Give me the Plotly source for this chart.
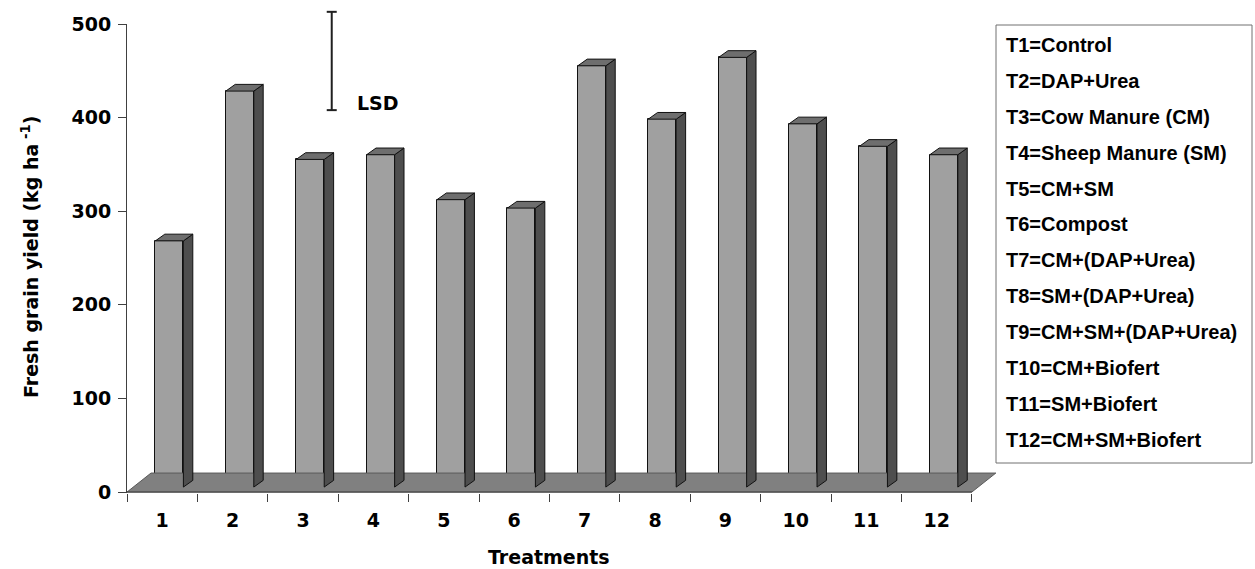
import plotly.graph_objects as go

# ---------------- data ----------------
treatments = ['1', '2', '3', '4', '5', '6', '7', '8', '9', '10', '11', '12']
yield_values = [263, 423, 350, 355, 307, 298, 450, 393, 459, 388, 364, 355]
y_tick_values = [0, 100, 200, 300, 400, 500]
legend_labels = [
    "T1=Control", "T2=DAP+Urea", "T3=Cow Manure (CM)", "T4=Sheep Manure (SM)",
    "T5=CM+SM", "T6=Compost", "T7=CM+(DAP+Urea)", "T8=SM+(DAP+Urea)",
    "T9=CM+SM+(DAP+Urea)", "T10=CM+Biofert", "T11=SM+Biofert", "T12=CM+SM+Biofert",
]
lsd_value = 105
lsd_top = 513

# ---------------- layout geometry ----------------
W, H = 1255, 569
ML, MR, MT, MB = 127, 255, 24, 76
X_RANGE = [-0.5, 11.9]
Y_RANGE = [-1, 500]
PW, PH = W - ML - MR, H - MT - MB
ux = PW / (X_RANGE[1] - X_RANGE[0])   # px per x unit
uy = PH / (Y_RANGE[1] - Y_RANGE[0])   # px per y unit


def xpaper_px(px):
    return (px - ML) / PW


def ypaper_px(py):
    return (H - MB - py) / PH


def xpaper(v):
    return (v - X_RANGE[0]) / (X_RANGE[1] - X_RANGE[0])


def ypaper(v):
    return (v - Y_RANGE[0]) / (Y_RANGE[1] - Y_RANGE[0])


# pseudo-3D style constants (pixels converted to data units)
floor_dx, floor_dy = 24 / ux, 19 / uy
bar_shift = 7.2 / ux
bar_w = 28 / ux
bar_base = 5 / uy
depth_dx, depth_dy = 9.4 / ux, 6.7 / uy

FRONT = '#A0A0A0'
SIDE = '#4E4E4E'
TOP = '#6E6E6E'
FLOOR = '#808080'
EDGE = '#111111'
AXIS = '#404040'

n = len(yield_values)
xs = list(range(n))

fig = go.Figure()

# floor
x0, x1 = -0.5, n - 0.5
fig.add_trace(go.Scatter(
    x=[x0, x0 + floor_dx, x1 + floor_dx, x1, x0],
    y=[0, floor_dy, floor_dy, 0, 0],
    fill='toself', fillcolor=FLOOR, mode='lines',
    line=dict(color='#5A5A5A', width=1), hoverinfo='skip', showlegend=False))

# x axis line
fig.add_trace(go.Scatter(x=[x0, x1], y=[0, 0], mode='lines',
                         line=dict(color=AXIS, width=1), hoverinfo='skip', showlegend=False))

# side faces and top faces
side_x, side_y, top_x, top_y = [], [], [], []
for i, v in zip(xs, yield_values):
    xl = i + bar_shift - bar_w / 2
    xr = i + bar_shift + bar_w / 2
    yb = bar_base
    yt = bar_base + v
    side_x += [xr, xr + depth_dx, xr + depth_dx, xr, xr, None]
    side_y += [yb, yb + depth_dy, yt + depth_dy, yt, yb, None]
    top_x += [xl, xl + depth_dx, xr + depth_dx, xr, xl, None]
    top_y += [yt, yt + depth_dy, yt + depth_dy, yt, yt, None]

fig.add_trace(go.Scatter(x=side_x, y=side_y, fill='toself', fillcolor=SIDE, mode='lines',
                         line=dict(color=EDGE, width=1), hoverinfo='skip', showlegend=False))
fig.add_trace(go.Scatter(x=top_x, y=top_y, fill='toself', fillcolor=TOP, mode='lines',
                         line=dict(color=EDGE, width=1), hoverinfo='skip', showlegend=False))

# front faces
fig.add_trace(go.Bar(
    x=[i + bar_shift for i in xs], y=yield_values, base=bar_base, width=bar_w,
    marker=dict(color=FRONT, line=dict(color=EDGE, width=1)),
    showlegend=False, hoverinfo='y'))

tick_font = dict(family='DejaVu Sans', size=19, color='black', weight='bold')

shapes = []
# LSD bar (I shape)
lsd_x = 2.408
cap = 5 / ux
shapes.append(dict(type='line', xref='paper', yref='paper',
                   x0=xpaper(lsd_x), x1=xpaper(lsd_x),
                   y0=ypaper(lsd_top - lsd_value), y1=ypaper(lsd_top),
                   line=dict(color='#202020', width=2)))
for yy in (lsd_top, lsd_top - lsd_value):
    shapes.append(dict(type='line', xref='paper', yref='paper',
                       x0=xpaper(lsd_x - cap), x1=xpaper(lsd_x + cap),
                       y0=ypaper(yy), y1=ypaper(yy),
                       line=dict(color='#202020', width=2)))
# legend box
shapes.append(dict(type='rect', xref='paper', yref='paper',
                   x0=xpaper_px(996), x1=xpaper_px(1252),
                   y0=ypaper_px(463), y1=ypaper_px(25),
                   line=dict(color='#707070', width=1), fillcolor='white', layer='below'))

annotations = [
    dict(text='LSD', xref='x', yref='y', x=lsd_x + 23 / ux, y=lsd_top - lsd_value + 8,
         xanchor='left', yanchor='middle', showarrow=False, font=tick_font),
    dict(text='Fresh grain yield (kg ha<sup> -1</sup>)', xref='paper', yref='paper',
         x=xpaper_px(30), y=ypaper_px(257), textangle=-90, xanchor='center', yanchor='middle',
         showarrow=False, font=tick_font),
    dict(text='Treatments', xref='paper', yref='paper',
         x=xpaper((n - 1) / 2), y=ypaper_px(557), xanchor='center', yanchor='middle',
         showarrow=False, font=tick_font),
]
legend_font = dict(family='Liberation Sans', size=20, color='black', weight='bold')
for k, lab in enumerate(legend_labels):
    annotations.append(dict(text=lab, xref='paper', yref='paper',
                            x=xpaper_px(1004), y=ypaper_px(45 + k * 35.9),
                            xanchor='left', yanchor='middle', showarrow=False, font=legend_font))

fig.update_layout(
    width=W, height=H,
    margin=dict(l=ML, r=MR, t=MT, b=MB, pad=0),
    paper_bgcolor='white', plot_bgcolor='white',
    bargap=0,
    shapes=shapes, annotations=annotations,
    xaxis=dict(range=X_RANGE, tickmode='array', tickvals=xs, ticktext=treatments,
               ticks='', showline=False, showgrid=False, zeroline=False,
               tickfont=tick_font, ticklabelstandoff=14,
               minor=dict(tickmode='array', tickvals=[i - 0.5 for i in range(n + 1)],
                          ticks='outside', ticklen=8, tickwidth=1, tickcolor=AXIS,
                          showgrid=False)),
    yaxis=dict(range=Y_RANGE, tickmode='array', tickvals=y_tick_values,
               ticks='outside', ticklen=8, tickwidth=1, tickcolor=AXIS,
               showline=True, linecolor=AXIS, linewidth=1,
               showgrid=False, zeroline=False, tickfont=tick_font, ticklabelstandoff=3),
)

fig.write_html("out.html", config={'displayModeBar': False},
               post_script="document.body.style.margin='0';document.body.style.overflow='hidden';")
